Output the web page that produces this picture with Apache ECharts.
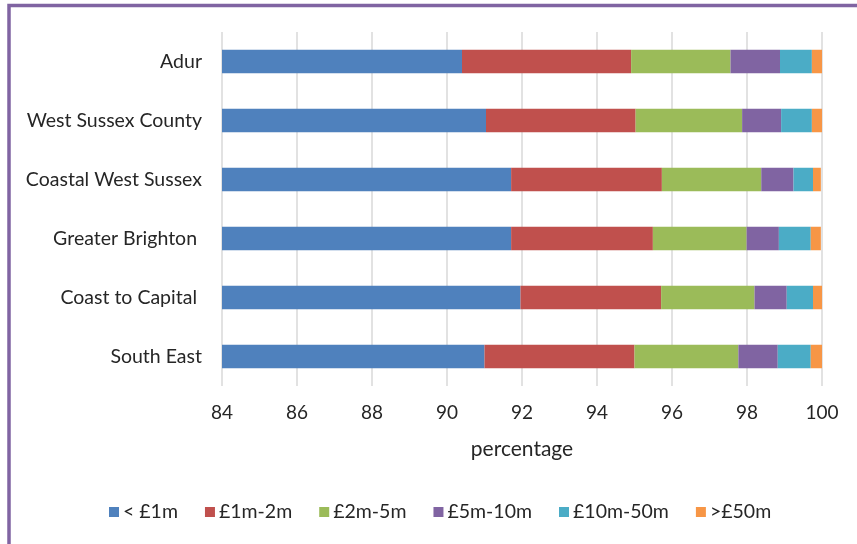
<!DOCTYPE html>
<html>
<head>
<meta charset="utf-8">
<script src="https://cdn.jsdelivr.net/npm/echarts@6/dist/echarts.min.js"></script>
<style>
  html, body { margin: 0; padding: 0; background: #fff; }
  #chart { width: 857px; height: 544px; }
</style>
</head>
<body>
<div id="chart"></div>
<script>
// Areas, listed bottom-to-top as the category axis draws them
const categories = ['South East', 'Coast to Capital ', 'Greater Brighton ', 'Coastal West Sussex', 'West Sussex County', 'Adur'];

// Share of businesses (%) by turnover band, same order as categories
const under1m   = [91.00, 91.96, 91.71, 91.71, 91.04, 90.40];
const m1to2     = [4.00, 3.75, 3.78, 4.02, 3.99, 4.51];
const m2to5     = [2.77, 2.49, 2.50, 2.65, 2.84, 2.65];
const m5to10    = [1.05, 0.86, 0.86, 0.86, 1.04, 1.32];
const m10to50   = [0.88, 0.70, 0.85, 0.52, 0.82, 0.85];
const over50m   = [0.30, 0.24, 0.27, 0.21, 0.27, 0.27];

const bandNames = ['< £1m', '£1m-2m', '£2m-5m', '£5m-10m', '£10m-50m', '>£50m'];
const bandValues = [under1m, m1to2, m2to5, m5to10, m10to50, over50m];
const bandColors = ['#4F81BD', '#C0504D', '#9BBB59', '#8064A2', '#4BACC6', '#F79646'];

const xTicks = { min: 84, max: 100, interval: 2 };

const font = 'Lato, "Noto Sans", sans-serif';
const textColor = '#262626';

const chart = echarts.init(document.getElementById('chart'), null, { renderer: 'canvas' });

chart.setOption({
  animation: false,
  color: bandColors,
  textStyle: { fontFamily: font },
  graphic: [{
    type: 'rect',
    shape: { x: 9, y: 5.5, width: 1000, height: 700 },
    style: { fill: 'none', stroke: '#8064A2', lineWidth: 3.5 },
    silent: true
  }],
  grid: { left: 222, right: 35, top: 32, bottom: 158, containLabel: false },
  legend: {
    data: bandNames,
    left: 104,
    top: 497,
    itemWidth: 10,
    itemHeight: 10,
    itemGap: 27,
    icon: 'rect',
    textStyle: { fontFamily: font, fontSize: 19.5, color: textColor, padding: [0, 0, 0, -1] }
  },
  xAxis: {
    type: 'value',
    min: xTicks.min,
    max: xTicks.max,
    interval: xTicks.interval,
    name: 'percentage',
    nameLocation: 'middle',
    nameGap: 53,
    nameTextStyle: { fontFamily: font, fontSize: 21, color: textColor },
    axisLine: { show: false },
    axisTick: { show: false },
    axisLabel: { fontFamily: font, fontSize: 19, color: textColor, margin: 17 },
    splitLine: { show: true, lineStyle: { color: '#d9d9d9', width: 1.5 } }
  },
  yAxis: {
    type: 'category',
    data: categories,
    axisLine: { show: false },
    axisTick: { show: false },
    axisLabel: { fontFamily: font, fontSize: 19.5, color: textColor, margin: 20 },
    splitLine: { show: false }
  },
  series: bandNames.map((name, i) => ({
    name: name,
    type: 'bar',
    stack: 'total',
    barWidth: 23.5,
    data: bandValues[i],
    itemStyle: { color: bandColors[i] }
  }))
});
</script>
</body>
</html>
